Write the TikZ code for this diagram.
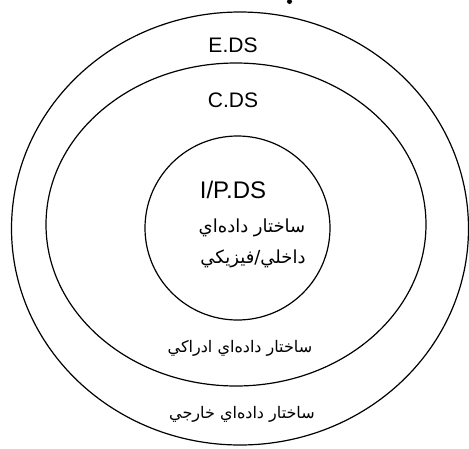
\documentclass[tikz,border=0pt]{standalone}
\usepackage{fontspec}
\setmainfont{Liberation Sans}
\newfontfamily\arabicfont[Script=Arabic]{DejaVu Sans}
\TeXXeTstate=1
\begin{document}
\begin{tikzpicture}[x=1pt,y=-1pt,
  ring/.style={draw=black,line width=1.2pt},
  latin/.style={inner sep=0pt,font=\fontsize{21}{21}\selectfont},
  farsi/.style={inner sep=0pt,font=\arabicfont\fontsize{16}{18}\selectfont}]
\useasboundingbox (0,0) rectangle (469,448);
% nested data-structure levels
\draw[ring] (240,228.5) ellipse [x radius=228.5, y radius=216.5];
\draw[ring] (236,224.5) ellipse [x radius=190, y radius=161.5];
\draw[ring] (237.5,228) ellipse [x radius=92.5, y radius=92];
% fragment of a glyph at the top edge
\fill (289.5,1.5) circle (2.5);
% labels
\node[latin] (eds) at (233,45) {E.DS};
\node[latin] (cds) at (233,100) {C.DS};
\node[latin,font=\fontsize{24}{24}\selectfont] (ipds) at (233,190) {I/P.DS};
\node[farsi,font=\arabicfont\fontsize{18}{20}\selectfont] (ip1) at (252,228) {\beginR ساختار داده‌اي\endR};
\node[farsi,font=\arabicfont\fontsize{18}{20}\selectfont] (ip2) at (253,259) {\beginR فيزيكي\endR/\beginR داخلي\endR};
\node[farsi] (c1) at (240,348) {\beginR ساختار داده‌اي ادراكي\endR};
\node[farsi] (e1) at (242,414) {\beginR ساختار داده‌اي خارجي\endR};
\end{tikzpicture}
\end{document}
